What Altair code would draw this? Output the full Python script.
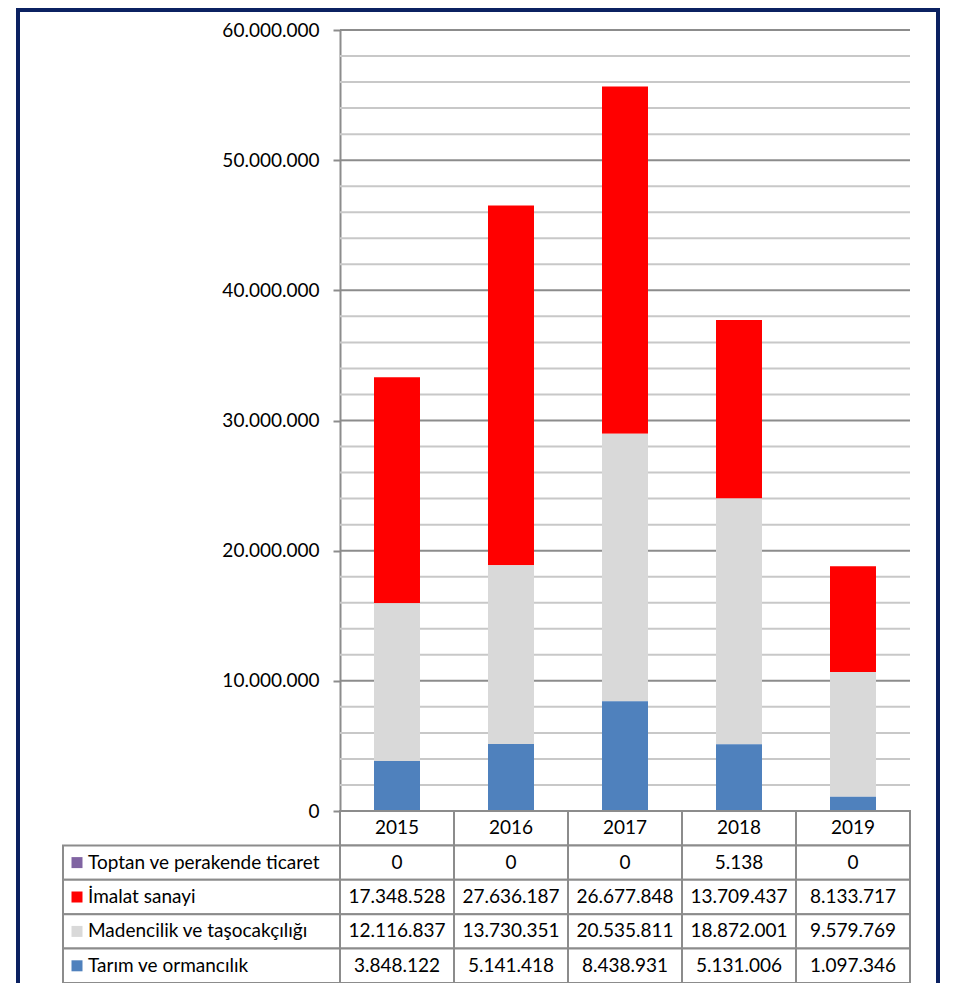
import altair as alt
import pandas as pd

# ---- data ----
years = ["2015", "2016", "2017", "2018", "2019"]
sectors = ["Toptan ve perakende ticaret", "İmalat sanayi",
           "Madencilik ve taşocakçılığı", "Tarım ve ormancılık"]
colors = ["#8064A2", "#FF0000", "#D9D9D9", "#4F81BD"]
toptan = [0, 0, 0, 5138, 0]
imalat = [17348528, 27636187, 26677848, 13709437, 8133717]
maden = [12116837, 13730351, 20535811, 18872001, 9579769]
tarim = [3848122, 5141418, 8438931, 5131006, 1097346]
series = [toptan, imalat, maden, tarim]
stack_order = [3, 2, 1, 0]
major_ticks = [0, 10000000, 20000000, 30000000, 40000000, 50000000, 60000000]
minor_ticks = [2000000, 4000000, 6000000, 8000000,
               12000000, 14000000, 16000000, 18000000,
               22000000, 24000000, 26000000, 28000000,
               32000000, 34000000, 36000000, 38000000,
               42000000, 44000000, 46000000, 48000000,
               52000000, 54000000, 56000000, 58000000]

FONT = "Lato"
FS = 19
GRID_MAJOR = "#8C8C8C"
GRID_MINOR = "#C8C8C8"
LINE = "#8C8C8C"

W, H, BAR_H = 570, 953, 781


def tr(v):
    return f"{v:,}".replace(",", ".")


rows_long = []
for s, vals, o in zip(sectors, series, stack_order):
    for y, v in zip(years, vals):
        rows_long.append({"year": y, "sector": s, "value": v, "ord": o})
df_bars = pd.DataFrame(rows_long)

row_domain = ["Yıl"] + sectors
cells = []
for y in years:
    cells.append({"year": y, "row": "Yıl", "text": y})
for s, vals in zip(sectors, series):
    for y, v in zip(years, vals):
        cells.append({"year": y, "row": s, "text": tr(v)})
df_cells = pd.DataFrame(cells)
df_labels = pd.DataFrame({"row": sectors})
df_minor = pd.DataFrame({"v": minor_ticks})
df_major = pd.DataFrame({"v": major_ticks[1:]})
df_one = pd.DataFrame({"a": [0]})

xs = alt.Scale(domain=years, paddingInner=0, paddingOuter=0)
yv = alt.Scale(domain=[0, 60000000], range=[BAR_H, 0], nice=False, zero=True)
rs = alt.Scale(domain=row_domain, range=[BAR_H, H], paddingInner=0, paddingOuter=0)
cs = alt.Scale(domain=sectors, range=colors)

minor = alt.Chart(df_minor).mark_rule(color=GRID_MINOR, strokeWidth=2).encode(
    y=alt.Y("v:Q", scale=yv, axis=None))
major = alt.Chart(df_major).mark_rule(color=GRID_MAJOR, strokeWidth=2).encode(
    y=alt.Y("v:Q", scale=yv, axis=None))

bars = alt.Chart(df_bars).mark_bar(width=alt.RelativeBandSize(0.4035)).encode(
    x=alt.X("year:N", scale=xs, axis=None),
    y=alt.Y("value:Q", stack="zero", scale=yv,
            axis=alt.Axis(values=major_ticks,
                          labelExpr="replace(format(datum.value, ',d'), /,/g, '.')",
                          labelFont=FONT, labelFontSize=FS, labelColor="black",
                          tickColor=LINE, tickSize=7, tickWidth=2,
                          domainColor=LINE, domainWidth=2, grid=False,
                          labelPadding=14, title=None)),
    color=alt.Color("sector:N", scale=cs, legend=None),
    order=alt.Order("ord:Q", sort="ascending"),
)

cell_rects = alt.Chart(df_cells).mark_rect(fill="white", stroke=LINE, strokeWidth=2).encode(
    x=alt.X("year:N", scale=xs, axis=None),
    y=alt.Y("row:N", scale=rs, axis=None),
)
cell_text = alt.Chart(df_cells).mark_text(font=FONT, fontSize=FS, color="black").encode(
    x=alt.X("year:N", scale=xs, axis=None),
    y=alt.Y("row:N", scale=rs, axis=None),
    text="text:N",
)
label_rects = alt.Chart(df_labels).mark_rect(fill="white", stroke=LINE, strokeWidth=2).encode(
    x=alt.value(-277), x2=alt.value(0),
    y=alt.Y("row:N", scale=rs, axis=None),
)
swatches = alt.Chart(df_labels).mark_square(size=121, opacity=1, filled=True).encode(
    x=alt.value(-263),
    y=alt.Y("row:N", scale=rs, axis=None),
    color=alt.Color("row:N", scale=cs, legend=None),
)
label_text = alt.Chart(df_labels).mark_text(font=FONT, fontSize=FS, color="black",
                                             align="left").encode(
    x=alt.value(-252),
    y=alt.Y("row:N", scale=rs, axis=None),
    text="row:N",
)
frame = alt.Chart(df_one).mark_rect(filled=False, stroke="#0B2161", strokeWidth=4).encode(
    x=alt.value(-322), x2=alt.value(598), y=alt.value(-20), y2=alt.value(1000))

chart = alt.layer(
    minor, major, bars, cell_rects, cell_text, label_rects, swatches, label_text, frame
).resolve_scale(y="independent").properties(
    width=W, height=H,
    padding={"left": 332, "top": 22, "right": 30, "bottom": 0},
    autosize=alt.AutoSizeParams(type="none"),
).configure_view(stroke=None)

chart.save("out.html", embed_options={"renderer": "svg", "actions": False})
